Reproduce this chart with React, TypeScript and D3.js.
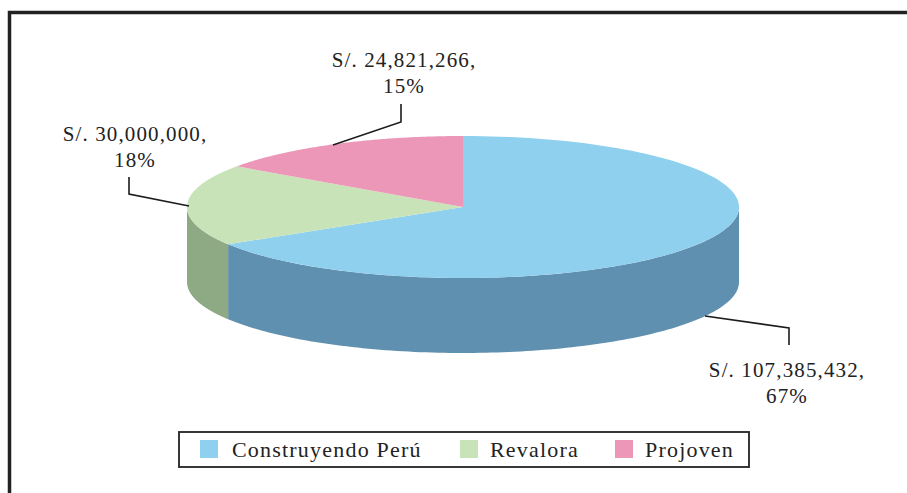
import React from "react";
import * as d3 from "d3";

const categories = ["Construyendo Perú", "Revalora", "Projoven"];
const amounts = [107385432, 30000000, 24821266];
const amountLabels = ["S/. 107,385,432,", "S/. 30,000,000,", "S/. 24,821,266,"];
const percentLabels = ["67%", "18%", "15%"];
const topColors = ["#8fd0ef", "#c9e3b9", "#ed97b8"];
const sideColors = ["#6090b0", "#8eaa85", "#b06f8a"];

const legendTextX = [232, 490, 645];
const legendSwatchX = [200, 460, 615];
const labelPos = [
  { x: 787, y: 377 },
  { x: 135, y: 141 },
  { x: 404, y: 67 },
];
const leaders = [
  [[705, 316], [789, 328], [789, 345]],
  [[189, 206], [129, 194], [129, 177]],
  [[333, 145], [401, 122], [401, 104]],
];

const cx = 463, cy = 207, rx = 276, ry = 71, depth = 75;
const font = "'Liberation Serif', serif";

const px = (a: number) => cx + rx * Math.sin(a);
const py = (a: number) => cy - ry * Math.cos(a);

function sample(a0: number, a1: number) {
  return d3.range(0, 121).map((i) => a0 + ((a1 - a0) * i) / 120);
}

const line = d3.line<[number, number]>();

export default function App() {
  const arcs = d3.pie<number>().sort(null)(amounts);

  const tops = arcs.map((s) => {
    const pts = sample(s.startAngle, s.endAngle).map((a) => [px(a), py(a)] as [number, number]);
    return line([[cx, cy], ...pts]) + "Z";
  });

  const sides = arcs.map((s) => {
    const a0 = Math.max(s.startAngle, Math.PI / 2);
    const a1 = Math.min(s.endAngle, (3 * Math.PI) / 2);
    if (a1 <= a0) return null;
    const as = sample(a0, a1);
    const upper = as.map((a) => [px(a), py(a)] as [number, number]);
    const lower = as.slice().reverse().map((a) => [px(a), py(a) + depth] as [number, number]);
    return line([...upper, ...lower]) + "Z";
  });

  return (
    <svg
      width={907}
      height={493}
      style={{ position: "absolute", left: 0, top: 0, background: "#fff" }}
      fontFamily={font}
    >
      <path d="M9.5,493V12.5H907" fill="none" stroke="#222" strokeWidth={3.5} />

      {sides.map((d, i) => d && <path key={i} d={d} fill={sideColors[i]} />)}
      {tops.map((d, i) => <path key={i} d={d} fill={topColors[i]} />)}

      {leaders.map((pts, i) => (
        <path key={i} d={line(pts as [number, number][]) as string} fill="none" stroke="#1c1c1c" strokeWidth={1.6} />
      ))}

      {categories.map((_, i) => (
        <text key={i} textAnchor="middle" fontSize={21} letterSpacing={1.13} fill="#222">
          <tspan x={labelPos[i].x} y={labelPos[i].y}>{amountLabels[i]}</tspan>
          <tspan x={labelPos[i].x} y={labelPos[i].y + 26}>{percentLabels[i]}</tspan>
        </text>
      ))}

      <rect x={179} y={432} width={570} height={35} fill="#fff" stroke="#222" strokeWidth={1.8} />
      {categories.map((c, i) => (
        <g key={c}>
          <rect x={legendSwatchX[i]} y={440} width={18} height={18} fill={topColors[i]} />
          <text x={legendTextX[i]} y={457} fontSize={22} letterSpacing={1.2} fill="#222">{c}</text>
        </g>
      ))}
    </svg>
  );
}
